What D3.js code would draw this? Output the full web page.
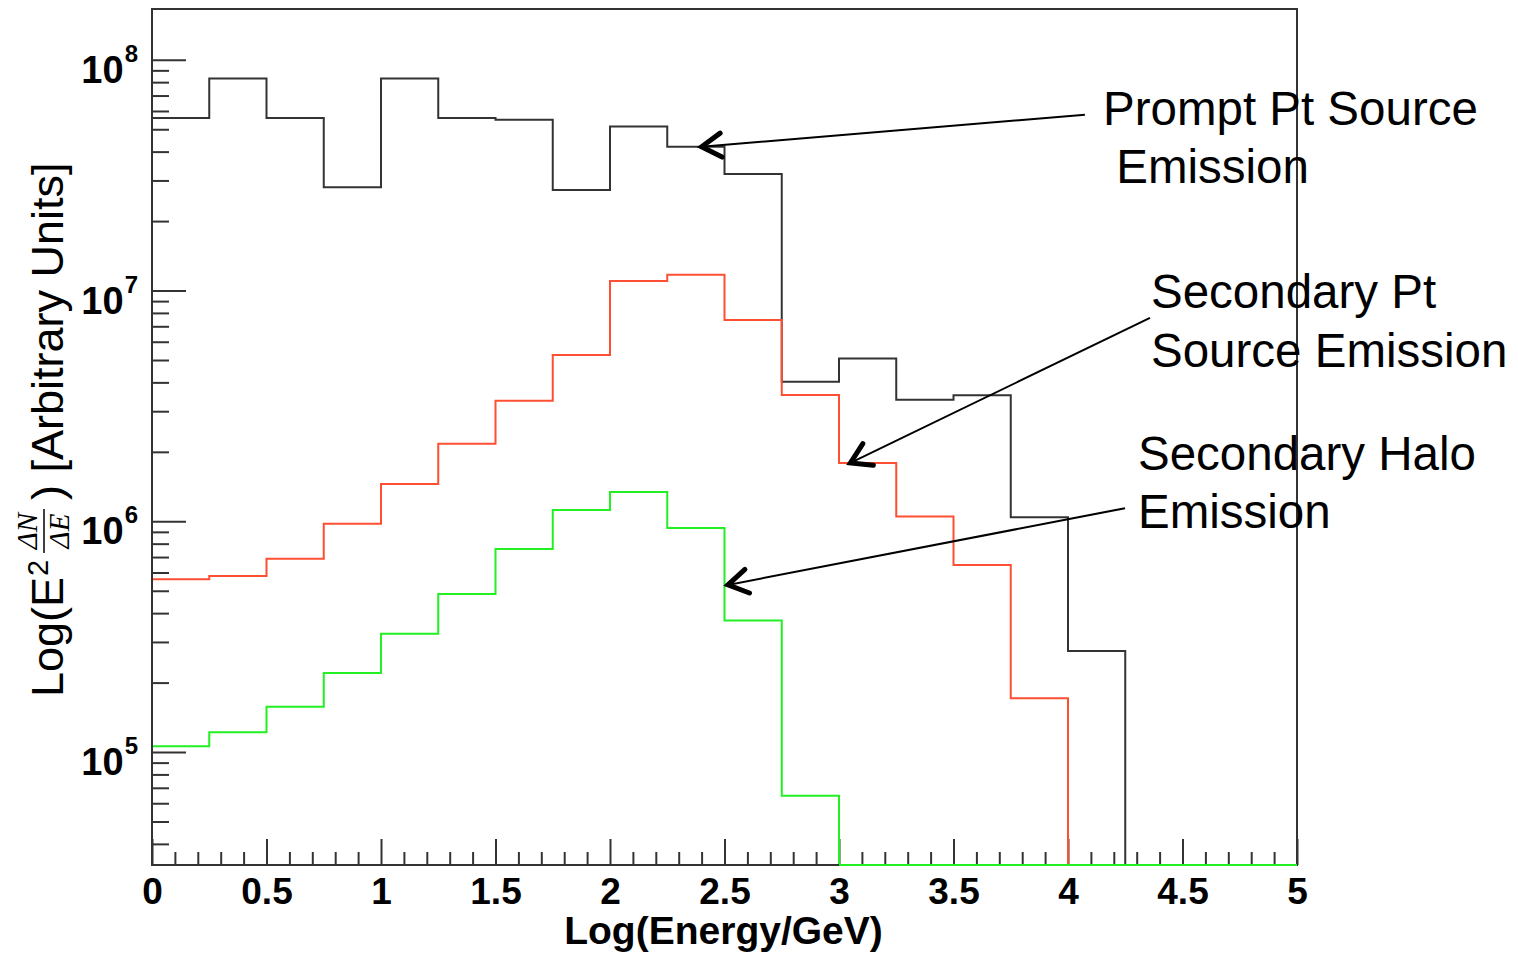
<!DOCTYPE html>
<html>
<head>
<meta charset="utf-8">
<script src="https://cdn.jsdelivr.net/npm/d3@7"></script>
<style>
  body { margin: 0; background: #fff; }
  text { font-family: "Liberation Sans", Arial, sans-serif; }
</style>
</head>
<body>
<div id="container"></div>
<script>
/* CONSTANTS AND GLOBALS */
const width = 1518,
  height = 955,
  margin = { top: 9, bottom: 90, left: 152, right: 221 };

/* DATA */
const binEdges = [0, 0.25, 0.5, 0.75, 1, 1.25, 1.5, 1.75, 2, 2.25, 2.5,
  2.75, 3, 3.25, 3.5, 3.75, 4, 4.25, 4.5, 4.75, 5];

const promptPt = [5.6e7, 8.3e7, 5.6e7, 2.8e7, 8.3e7, 5.6e7, 5.5e7, 2.73e7, 5.14e7, 4.2e7,
  3.2e7, 4.02e6, 5.07e6, 3.36e6, 3.52e6, 1.04e6, 2.74e5, 0, 0, 0];
const secondaryPt = [5.61e5, 5.8e5, 6.89e5, 9.75e5, 1.45e6, 2.17e6, 3.33e6, 5.26e6, 1.10e7, 1.17e7,
  7.45e6, 3.53e6, 1.79e6, 1.05e6, 6.46e5, 1.71e5, 0, 0, 0, 0];
const secondaryHalo = [1.06e5, 1.22e5, 1.57e5, 2.2e5, 3.26e5, 4.84e5, 7.59e5, 1.12e6, 1.34e6, 9.36e5,
  3.72e5, 6.47e4, 0, 0, 0, 0, 0, 0, 0, 0];

const seriesColors = ["#333333", "#ff4f33", "#22f022"];

const xMajorTicks = [0, 0.5, 1, 1.5, 2, 2.5, 3, 3.5, 4, 4.5, 5];
const xMinorTicks = [0.1, 0.2, 0.3, 0.4, 0.6, 0.7, 0.8, 0.9, 1.1, 1.2, 1.3, 1.4, 1.6, 1.7, 1.8, 1.9,
  2.1, 2.2, 2.3, 2.4, 2.6, 2.7, 2.8, 2.9, 3.1, 3.2, 3.3, 3.4, 3.6, 3.7, 3.8, 3.9,
  4.1, 4.2, 4.3, 4.4, 4.6, 4.7, 4.8, 4.9];
const yDecades = [1e5, 1e6, 1e7, 1e8];
const yExponents = ["5", "6", "7", "8"];
const yDomain = [3.24e4, 1.66e8];

// annotation arrows: start point and tip, in data units
const arrows = [
  { from: [4.074, 5.78e7], to: [2.40, 4.2e7] },
  { from: [4.358, 7.62e6], to: [3.05, 1.79e6] },
  { from: [4.249, 1.14e6], to: [2.515, 5.3e5] }
];
const labels = [
  { lines: ["Prompt Pt Source", " Emission"], x: 1103, y: [125, 183] },
  { lines: ["Secondary Pt", "Source Emission"], x: 1151, y: [308, 367] },
  { lines: ["Secondary Halo", "Emission"], x: 1138, y: [470, 528] }
];

// SCALES
const xScale = d3.scaleLinear()
  .domain([0, 5])
  .range([margin.left, width - margin.right]);

const yScale = d3.scaleLog()
  .domain(yDomain)
  .range([height - margin.bottom, margin.top]);

const yPos = v => v > 0 ? Math.min(yScale(v), height - margin.bottom) : height - margin.bottom;

// CREATE SVG ELEMENT
const svg = d3.select("#container")
  .append("svg")
  .attr("width", width)
  .attr("height", height)
  .style("background-color", "#fff");

// AXES
const axisColor = "#333";

// x ticks point up into the frame
svg.append("g")
  .attr("transform", `translate(0, ${height - margin.bottom})`)
  .call(d3.axisTop(xScale).tickValues(xMajorTicks).tickSize(26).tickFormat(""))
  .call(g => g.select(".domain").remove());
svg.append("g")
  .attr("transform", `translate(0, ${height - margin.bottom})`)
  .call(d3.axisTop(xScale).tickValues(xMinorTicks).tickSize(13).tickFormat(""))
  .call(g => g.select(".domain").remove());

const xLabels = svg.append("g")
  .attr("transform", `translate(0, ${height - margin.bottom})`)
  .call(d3.axisBottom(xScale).tickValues(xMajorTicks).tickSize(0).tickPadding(13).tickFormat(d3.format("")))
  .call(g => g.select(".domain").remove());
xLabels.selectAll("text")
  .attr("fill", "#000")
  .style("font-size", "37px")
  .style("font-weight", "bold")
  .style("font-family", '"Liberation Sans", Arial, sans-serif');

svg.append("text")
  .attr("x", xScale(2.5) - 1)
  .attr("y", 944)
  .attr("text-anchor", "middle")
  .style("font-size", "39px")
  .style("font-weight", "bold")
  .text("Log(Energy/GeV)");

// y ticks point right into the frame
const yMinor = yScale.ticks().filter(v => yDecades.indexOf(v) < 0);
svg.append("g")
  .attr("transform", `translate(${margin.left}, 0)`)
  .call(d3.axisRight(yScale).tickValues(yDecades).tickSize(34).tickFormat(""))
  .call(g => g.select(".domain").remove());
svg.append("g")
  .attr("transform", `translate(${margin.left}, 0)`)
  .call(d3.axisRight(yScale).tickValues(yMinor).tickSize(17).tickFormat(""))
  .call(g => g.select(".domain").remove());

svg.selectAll("line").attr("stroke", axisColor).attr("stroke-width", 2);

const yLab = svg.selectAll(".yLab")
  .data(yDecades)
  .join("text")
  .attr("class", "yLab")
  .attr("x", 138)
  .attr("y", d => yScale(d) + 23)
  .attr("text-anchor", "end")
  .style("font-weight", "bold");
yLab.append("tspan").style("font-size", "38px").text("10");
yLab.append("tspan")
  .style("font-size", "24px")
  .attr("dx", 1)
  .attr("dy", -21)
  .text((d, i) => yExponents[i]);

// y title, rotated
const yTitle = svg.append("g")
  .attr("transform", `translate(63, 697) rotate(-90)`)
  .style("font-size", "45px");
yTitle.append("text").attr("x", 0).attr("y", 0).text("Log(E");
yTitle.append("text").attr("x", 121).attr("y", -15).style("font-size", "29px").text("2");
yTitle.append("text").attr("x", 166).attr("y", -26).attr("text-anchor", "middle")
  .style("font-family", '"Liberation Serif", "DejaVu Serif", serif').style("font-style", "italic")
  .style("font-size", "29px").text("ΔN");
yTitle.append("line").attr("x1", 144).attr("x2", 188).attr("y1", -19).attr("y2", -19)
  .attr("stroke", "#000").attr("stroke-width", 1.5);
yTitle.append("text").attr("x", 166).attr("y", 6).attr("text-anchor", "middle")
  .style("font-family", '"Liberation Serif", "DejaVu Serif", serif').style("font-style", "italic")
  .style("font-size", "29px").text("ΔE");
yTitle.append("text").attr("x", 197).attr("y", 0).text(") [Arbitrary Units]");

// HISTOGRAMS (step outline)
const lineGen = d3.line()
  .x(d => xScale(d[0]))
  .y(d => yPos(d[1]))
  .curve(d3.curveStepAfter);

const seriesData = [promptPt, secondaryPt, secondaryHalo].map(vals => {
  const pts = vals.map((v, i) => [binEdges[i], v]);
  pts.push([binEdges[binEdges.length - 1], vals[vals.length - 1]]);
  return pts;
});

svg.selectAll(".trend")
  .data(seriesData)
  .join("path")
  .attr("class", "trend")
  .attr("fill", "none")
  .attr("stroke", (d, i) => seriesColors[i])
  .attr("stroke-width", 2)
  .attr("d", d => lineGen(d));

// FRAME
svg.append("rect")
  .attr("x", margin.left)
  .attr("y", margin.top)
  .attr("width", width - margin.left - margin.right)
  .attr("height", height - margin.top - margin.bottom)
  .attr("fill", "none")
  .attr("stroke", axisColor)
  .attr("stroke-width", 2);

// redraw the halo zero run on top of the frame bottom, like the picture
svg.append("path")
  .attr("fill", "none")
  .attr("stroke", seriesColors[2])
  .attr("stroke-width", 2)
  .attr("d", lineGen(seriesData[2].slice(12)));

// ANNOTATIONS
const ann = svg.append("g");
arrows.forEach(a => {
  const x1 = xScale(a.from[0]), y1 = yScale(a.from[1]);
  const x2 = xScale(a.to[0]), y2 = yScale(a.to[1]);
  ann.append("line")
    .attr("x1", x1).attr("y1", y1).attr("x2", x2).attr("y2", y2)
    .attr("stroke", "#000").attr("stroke-width", 2);
  const ang = Math.atan2(y1 - y2, x1 - x2);
  const len = 23, spread = 0.55;
  const head = d3.path();
  head.moveTo(x2 + len * Math.cos(ang - spread), y2 + len * Math.sin(ang - spread));
  head.lineTo(x2, y2);
  head.lineTo(x2 + len * Math.cos(ang + spread), y2 + len * Math.sin(ang + spread));
  ann.append("path")
    .attr("d", head.toString())
    .attr("fill", "none")
    .attr("stroke", "#000")
    .attr("stroke-width", 5)
    .attr("stroke-linecap", "round")
    .attr("stroke-linejoin", "miter");
});

labels.forEach(l => {
  l.lines.forEach((t, i) => {
    ann.append("text")
      .attr("x", l.x)
      .attr("y", l.y[i])
      .style("font-size", "47.5px")
      .style("white-space", "pre")
      .attr("xml:space", "preserve")
      .text(t);
  });
});
</script>
</body>
</html>
